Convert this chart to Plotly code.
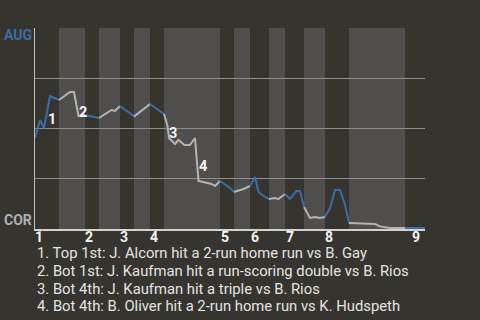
import plotly.graph_objects as go

# Win probability for AUG (1 = AUG wins, 0 = COR wins), by play index
play_x = [0, 1, 1.8, 3, 4.8, 7, 7.8, 8.7, 10, 12.8, 15.3, 16, 17, 18, 19, 19.8, 23, 25.8,
          26.5, 26.8, 28, 28.7, 29.9, 31, 32, 32.7, 35.3, 36, 37, 39, 39.8, 41.7, 43, 44,
          44.7, 46, 46.8, 48, 48.7, 50, 51, 52.3, 53, 53.8, 55, 56, 57, 58, 59, 60, 61, 62,
          62.8, 66, 68, 69, 71, 74, 78]
win_prob = [0.45, 0.54, 0.50, 0.66, 0.64, 0.68, 0.68, 0.56, 0.565, 0.55, 0.59, 0.585, 0.61,
            0.59, 0.575, 0.557, 0.62, 0.57, 0.51, 0.45, 0.42, 0.44, 0.415, 0.415, 0.45, 0.235,
            0.22, 0.21, 0.235, 0.20, 0.18, 0.195, 0.21, 0.255, 0.18, 0.155, 0.145, 0.15, 0.145,
            0.17, 0.145, 0.185, 0.185, 0.105, 0.05, 0.055, 0.05, 0.055, 0.10, 0.19, 0.19, 0.115,
            0.025, 0.02, 0.02, 0.008, 0.0, 0.0, 0.0]

# Half-inning start positions (even index = top half, odd = bottom half)
half_starts = [0, 4.8, 10, 12.8, 17, 19.8, 23, 25.8, 37, 39.8, 43, 46.8, 50, 53.8, 58, 62.8, 74]
game_end = 78

inning_labels = ["1", "2", "3", "4", "5", "6", "7", "8", "9"]
inning_label_x = [0.8, 10.8, 17.8, 23.8, 37.9, 43.9, 50.9, 58.8, 76.2]

event_labels = ["1", "2", "3", "4"]
event_x = [3.4, 9.6, 27.6, 33.6]
event_y = [0.545, 0.5775, 0.475, 0.31]

notes = [
    "1. Top 1st: J. Alcorn hit a 2-run home run vs B. Gay",
    "2. Bot 1st: J. Kaufman hit a run-scoring double vs B. Rios",
    "3. Bot 4th: J. Kaufman hit a triple vs B. Rios",
    "4. Bot 4th: B. Oliver hit a 2-run home run vs K. Hudspeth",
]

BG = "#36342f"
BAND = "#4f4e4c"
BLUE = "#3a6ea6"
GRAY = "#b4b4b2"

def half_index(v):
    h = 0
    for i, s in enumerate(half_starts):
        if v >= s:
            h = i
    return h

fig = go.Figure()

# line segments coloured by half inning
runs = []
cur_color = None
cur = None
for i in range(len(play_x) - 1):
    mid = (play_x[i] + play_x[i + 1]) / 2
    col = BLUE if half_index(mid) % 2 == 0 else GRAY
    if col != cur_color:
        if cur:
            runs.append((cur_color, cur))
        cur = [i]
        cur_color = col
    cur.append(i + 1)
runs.append((cur_color, cur))

for col, idx in runs:
    fig.add_trace(go.Scatter(
        x=[play_x[k] for k in idx], y=[win_prob[k] for k in idx],
        mode="lines", line=dict(color=col, width=2), hoverinfo="skip", showlegend=False))

shapes = []
bounds = half_starts + [game_end]
for i in range(len(half_starts)):
    if i % 2 == 1:
        shapes.append(dict(type="rect", xref="x", yref="paper", x0=bounds[i], x1=bounds[i + 1],
                           y0=0, y1=1, fillcolor=BAND, line=dict(width=0), layer="below"))

annotations = []
for t, x, y in zip(event_labels, event_x, event_y):
    annotations.append(dict(text=t, x=x, y=y, xref="x", yref="y", showarrow=False,
                            font=dict(family="Roboto", size=14.5, color="#f4f4f4", weight="bold")))
for t, x in zip(inning_labels, inning_label_x):
    annotations.append(dict(text=t, x=x, y=-0.04, xref="x", yref="paper", showarrow=False,
                            yanchor="middle",
                            font=dict(family="Roboto", size=14, color="#f4f4f4", weight="bold")))
annotations.append(dict(text="AUG", x=-33 / 390, y=1, xref="paper", yref="paper", xanchor="left",
                        yanchor="top", yshift=3, showarrow=False,
                        font=dict(family="Roboto", size=14, color=BLUE, weight="bold")))
annotations.append(dict(text="COR", x=-33 / 390, y=0, xref="paper", yref="paper", xanchor="left",
                        yanchor="bottom", yshift=-1, showarrow=False,
                        font=dict(family="Roboto", size=14, color="#b0b0ae", weight="bold")))
note_y = [253, 271, 288.5, 306]
for t, py in zip(notes, note_y):
    annotations.append(dict(text=t, x=0, y=(229 - py) / 201, xref="paper", yref="paper",
                            xanchor="left", yanchor="middle", showarrow=False,
                            font=dict(family="Roboto", size=14.8, color="#e4e4e2")))

fig.update_layout(
    width=480, height=320,
    margin=dict(l=35, r=55, t=28, b=91),
    paper_bgcolor=BG, plot_bgcolor=BG,
    shapes=shapes, annotations=annotations,
    xaxis=dict(range=[0, game_end], showgrid=False, zeroline=False, showticklabels=False,
               showline=True, linecolor="#d2d2d0", linewidth=2, fixedrange=True),
    yaxis=dict(range=[-0.005, 1], tickvals=[0.25, 0.5, 0.75, 1.0], showgrid=True,
               gridcolor="#8c8c8a", gridwidth=1, zeroline=False, showticklabels=False,
               showline=True, linecolor="#c0c0be", linewidth=1, fixedrange=True),
    showlegend=False,
)

fig.write_html("out.html")
